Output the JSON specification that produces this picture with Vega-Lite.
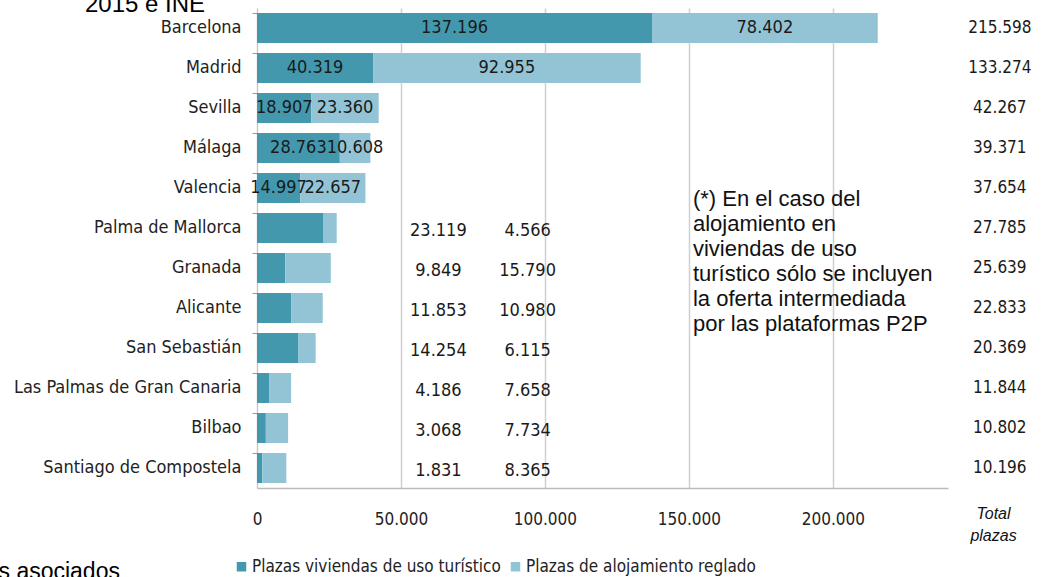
{
  "$schema": "https://vega.github.io/schema/vega-lite/v6.json",
  "width": 691,
  "height": 480,
  "autosize": {"type": "none"},
  "padding": {"left": 257, "top": 8, "right": 93, "bottom": 89},
  "background": "white",
  "title": {
    "text": "2015 e INE",
    "anchor": "start",
    "frame": "group",
    "dx": -172,
    "offset": -9,
    "font": "Liberation Sans",
    "fontSize": 24,
    "fontWeight": "normal",
    "color": "#000000"
  },
  "config": {
    "locale": {"number": {"decimal": ",", "thousands": ".", "grouping": [3], "currency": ["", " €"]}},
    "view": {"stroke": null},
    "font": "DejaVu Sans Condensed"
  },
  "data": {
    "values": [
      {"city": "Barcelona", "viviendas": 137196, "reglado": 78402, "total": 215598},
      {"city": "Madrid", "viviendas": 40319, "reglado": 92955, "total": 133274},
      {"city": "Sevilla", "viviendas": 18907, "reglado": 23360, "total": 42267},
      {"city": "Málaga", "viviendas": 28763, "reglado": 10608, "total": 39371},
      {"city": "Valencia", "viviendas": 14997, "reglado": 22657, "total": 37654},
      {"city": "Palma de Mallorca", "viviendas": 23119, "reglado": 4566, "total": 27785},
      {"city": "Granada", "viviendas": 9849, "reglado": 15790, "total": 25639},
      {"city": "Alicante", "viviendas": 11853, "reglado": 10980, "total": 22833},
      {"city": "San Sebastián", "viviendas": 14254, "reglado": 6115, "total": 20369},
      {"city": "Las Palmas de Gran  Canaria", "viviendas": 4186, "reglado": 7658, "total": 11844},
      {"city": "Bilbao", "viviendas": 3068, "reglado": 7734, "total": 10802},
      {"city": "Santiago de Compostela", "viviendas": 1831, "reglado": 8365, "total": 10196}
    ]
  },
  "encoding": {
    "y": {
      "field": "city",
      "type": "nominal",
      "sort": ["Barcelona", "Madrid", "Sevilla", "Málaga", "Valencia", "Palma de Mallorca", "Granada", "Alicante", "San Sebastián", "Las Palmas de Gran  Canaria", "Bilbao", "Santiago de Compostela"],
      "scale": {"paddingInner": 0.25, "paddingOuter": 0.125},
      "axis": {
        "title": "s asociados",
        "titleAngle": 0,
        "titleX": -259,
        "titleY": 570,
        "titleAlign": "left",
        "titleBaseline": "alphabetic",
        "titleFont": "Liberation Sans",
        "titleFontSize": 23,
        "titleFontWeight": "normal",
        "titleColor": "#000000",
        "labelFont": "DejaVu Sans Condensed",
        "labelFontSize": 18,
        "labelColor": "#222222",
        "labelPadding": 11,
        "labelLimit": 300,
        "ticks": true,
        "tickSize": 5,
        "tickColor": "#9a9a9a",
        "bandPosition": 0,
        "domain": true,
        "domainColor": "#c8c8c8",
        "grid": false
      }
    }
  },
  "layer": [
    {
      "transform": [{"fold": ["viviendas", "reglado"], "as": ["tipo", "plazas"]}],
      "mark": {"type": "bar"},
      "encoding": {
        "x": {
          "field": "plazas",
          "type": "quantitative",
          "stack": "zero",
          "scale": {"domain": [0, 240000], "nice": false},
          "axis": {
            "values": [0, 50000, 100000, 150000, 200000],
            "format": ",d",
            "labelFont": "DejaVu Sans Condensed",
            "labelFontSize": 17,
            "labelColor": "#222222",
            "labelPadding": 23,
            "labelFlush": false,
            "ticks": false,
            "grid": true,
            "gridColor": "#d0d0d0",
            "gridWidth": 1.5,
            "domainColor": "#bcbcbc",
            "domainWidth": 1.5,
            "title": ["Total", "plazas"],
            "titleX": 736,
            "titleY": 17,
            "titleAlign": "center",
            "titleBaseline": "top",
            "titleFont": "Liberation Sans",
            "titleFontStyle": "italic",
            "titleFontWeight": "normal",
            "titleFontSize": 16,
            "titleLineHeight": 22,
            "titleColor": "#111111"
          }
        },
        "color": {
          "field": "tipo",
          "type": "nominal",
          "scale": {"domain": ["viviendas", "reglado"], "range": ["#4498AE", "#93C4D6"]},
          "legend": {
            "orient": "none",
            "legendX": -24,
            "legendY": 550,
            "direction": "horizontal",
            "title": null,
            "symbolType": "square",
            "symbolSize": 90,
            "symbolStrokeWidth": 0,
            "labelFont": "DejaVu Sans Condensed",
            "labelFontSize": 17,
            "labelColor": "#222222",
            "labelOffset": 2,
            "columnPadding": 6,
            "labelLimit": 400,
            "labelExpr": "datum.value == 'viviendas' ? 'Plazas viviendas de uso turístico' : 'Plazas de alojamiento reglado'"
          }
        },
        "order": {"field": "tipo", "sort": "descending"}
      }
    },
    {
      "transform": [
        {"filter": {"field": "city", "oneOf": ["Barcelona", "Madrid", "Sevilla", "Málaga", "Valencia"]}},
        {"fold": ["viviendas", "reglado"], "as": ["tipo", "plazas"]},
        {"stack": "plazas", "groupby": ["city"], "sort": [{"field": "tipo", "order": "descending"}], "as": ["v0", "v1"]},
        {"fold": ["v0", "v1"], "as": ["borde", "pos"]},
        {"aggregate": [{"op": "mean", "field": "pos", "as": "mid"}], "groupby": ["city", "tipo", "plazas"]}
      ],
      "mark": {"type": "text", "font": "DejaVu Sans Condensed", "fontSize": 18, "color": "#1a1a1a", "align": "center", "baseline": "middle"},
      "encoding": {
        "x": {"field": "mid", "type": "quantitative"},
        "text": {"field": "plazas", "type": "quantitative", "format": ",d"}
      }
    },
    {
      "transform": [{"filter": {"not": {"field": "city", "oneOf": ["Barcelona", "Madrid", "Sevilla", "Málaga", "Valencia"]}}}],
      "mark": {"type": "text", "font": "DejaVu Sans Condensed", "fontSize": 18, "color": "#1a1a1a", "align": "center", "baseline": "middle", "dy": 3},
      "encoding": {
        "x": {"datum": 63000, "type": "quantitative"},
        "text": {"field": "viviendas", "type": "quantitative", "format": ",d"}
      }
    },
    {
      "transform": [{"filter": {"not": {"field": "city", "oneOf": ["Barcelona", "Madrid", "Sevilla", "Málaga", "Valencia"]}}}],
      "mark": {"type": "text", "font": "DejaVu Sans Condensed", "fontSize": 18, "color": "#1a1a1a", "align": "center", "baseline": "middle", "dy": 3},
      "encoding": {
        "x": {"datum": 94000, "type": "quantitative"},
        "text": {"field": "reglado", "type": "quantitative", "format": ",d"}
      }
    },
    {
      "mark": {"type": "text", "font": "DejaVu Sans Condensed", "fontSize": 17, "color": "#1a1a1a", "align": "center", "baseline": "middle"},
      "encoding": {
        "x": {"datum": 258000, "type": "quantitative"},
        "text": {"field": "total", "type": "quantitative", "format": ",d"}
      }
    },
    {
      "data": {"values": [{"nota": "(*) En el caso del|alojamiento en|viviendas de uso|turístico sólo se incluyen|la oferta intermediada|por las plataformas P2P"}]},
      "mark": {"type": "text", "font": "Liberation Sans", "fontSize": 22, "color": "#111111", "align": "left", "baseline": "alphabetic", "lineBreak": "|", "lineHeight": 25, "dy": 18},
      "encoding": {
        "x": {"datum": 151400, "type": "quantitative"},
        "y": {"datum": "Valencia", "type": "nominal"},
        "text": {"field": "nota", "type": "nominal"}
      }
    }
  ]
}
